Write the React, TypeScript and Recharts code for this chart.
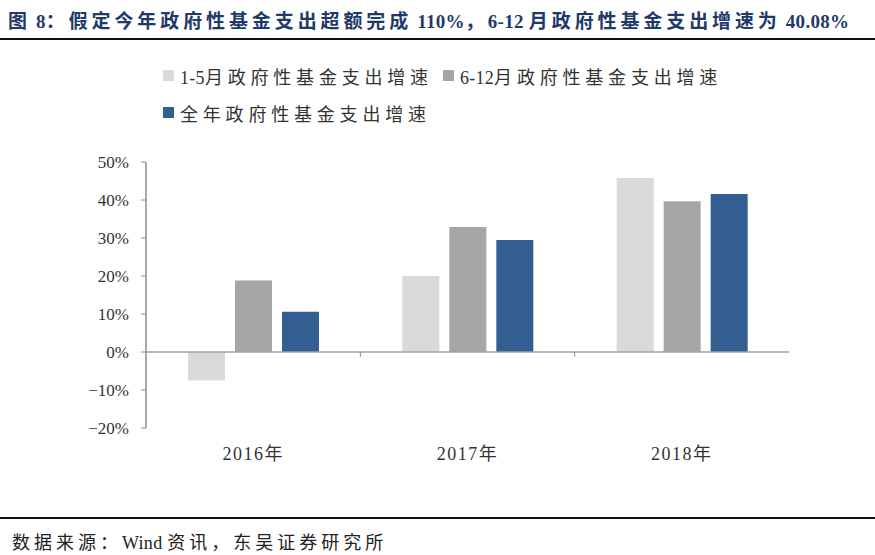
import React from 'react'
import { BarChart, Bar, XAxis, YAxis, ReferenceLine } from 'recharts'

const categories = ['2016年', '2017年', '2018年']
const growthJanMay = [-7.5, 20.0, 45.8]
const growthJunDec = [18.8, 32.9, 39.7]
const growthFullYear = [10.6, 29.5, 41.6]
const yTicks = [-20, -10, 0, 10, 20, 30, 40, 50]

const series = [
  { key: 'janMay', name: '1-5月政府性基金支出增速', color: '#D9D9D9', values: growthJanMay },
  { key: 'junDec', name: '6-12月政府性基金支出增速', color: '#A6A6A6', values: growthJunDec },
  { key: 'full', name: '全年政府性基金支出增速', color: '#335E91', values: growthFullYear },
]

const data = categories.map((c, i) => {
  const row: any = { category: c }
  series.forEach((s) => { row[s.key] = s.values[i] })
  return row
})

const FONT = '"Liberation Serif", "Noto Sans CJK SC", serif'
const AXIS = '#8C8C8C'

const fmtPct = (v: number) => (v < 0 ? `−${-v}%` : `${v}%`)

// wide spacing on CJK runs only, latin stays tight like the original
const spaced = (text: string, cjk: number) =>
  (text.match(/[\u3000-\u9fff\uff00-\uffef]+|[^\u3000-\u9fff\uff00-\uffef]+/g) || []).map((run, i) => (
    <span key={i} style={{ letterSpacing: /[\u3000-\u9fff\uff00-\uffef]/.test(run) ? cjk : 0.3 }}>{run}</span>
  ))

function LegendItem({ name, color }: { name: string; color: string }) {
  return (
    <div style={{ display: 'flex', alignItems: 'center', marginRight: 10, height: 37 }}>
      <span style={{ width: 11, height: 11, background: color, marginRight: 6, display: 'inline-block' }} />
      <span>{spaced(name, 4.8)}</span>
    </div>
  )
}

export default function App() {
  return (
    <div style={{ position: 'absolute', left: 0, top: 0, width: 875, height: 555, background: '#fff', fontFamily: FONT, color: '#222' }}>
      <div style={{ position: 'absolute', left: 8, top: 6, fontSize: 19, fontWeight: 'bold', color: '#1F3A6A', whiteSpace: 'nowrap' }}>
        {spaced('图 8：假定今年政府性基金支出超额完成 110%，6-12 月政府性基金支出增速为 40.08%', 3.9)}
      </div>
      <div style={{ position: 'absolute', left: 0, top: 38, width: 875, height: 2, background: '#111' }} />

      <div style={{ position: 'absolute', left: 163, top: 57, width: 620, fontSize: 18, color: '#333', display: 'flex', flexWrap: 'wrap' }}>
        {series.slice(0, 2).map((s) => <LegendItem key={s.key} name={s.name} color={s.color} />)}
        <div style={{ width: '100%', height: 0 }} />
        <LegendItem name={series[2].name} color={series[2].color} />
      </div>

      <div style={{ position: 'absolute', left: 0, top: 0 }}>
        <BarChart width={875} height={555} data={data} margin={{ top: 162, right: 86, bottom: 97, left: 86 }} barGap={10} barSize={37}>
          <XAxis
            dataKey="category"
            axisLine={false}
            tickLine={false}
            tickSize={0}
            tickMargin={19}
            height={30}
            tick={{ fontSize: 18, fill: '#333', fontFamily: FONT, letterSpacing: 1.5 }}
          />
          <YAxis
            domain={[-20, 50]}
            ticks={yTicks}
            interval={0}
            width={60}
            tickFormatter={fmtPct}
            axisLine={{ stroke: AXIS, strokeWidth: 1.5 }}
            tickLine={{ stroke: AXIS }}
            tickSize={5}
            tickMargin={12}
            tick={{ fontSize: 17, fill: '#333', fontFamily: FONT }}
          />
          {series.map((s) => (
            <Bar key={s.key} dataKey={s.key} name={s.name} fill={s.color} isAnimationActive={false} />
          ))}
          <ReferenceLine y={0} stroke="#A0A0A0" strokeWidth={1.5} />
          {categories.map((c) => (
            <ReferenceLine key={c} segment={[{ x: c, y: 0 }, { x: c, y: -1.3 }]} position="end" stroke={AXIS} />
          ))}
        </BarChart>
      </div>

      <div style={{ position: 'absolute', left: 0, top: 517, width: 875, height: 2, background: '#111' }} />
      <div style={{ position: 'absolute', left: 12, top: 528, fontSize: 18, color: '#222', whiteSpace: 'nowrap' }}>
        {spaced('数据来源：Wind 资讯，东吴证券研究所', 4)}
      </div>
    </div>
  )
}
